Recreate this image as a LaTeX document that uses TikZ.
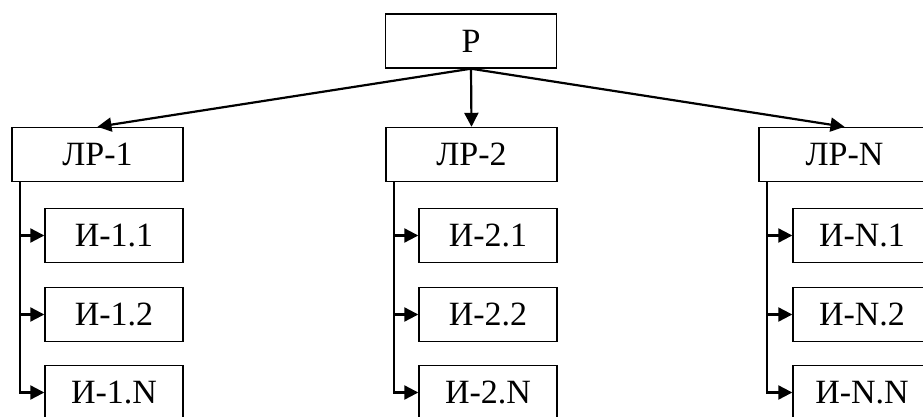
\documentclass[tikz,border=0pt]{standalone}
\usepackage{fontspec}
\setmainfont{Liberation Serif}
\usetikzlibrary{arrows.meta}
\begin{document}
\begin{tikzpicture}[x=1pt,y=-1pt,
  box/.style={draw, line width=1.4pt, minimum height=54pt, inner sep=0pt, font=\fontsize{34}{34}\selectfont},
  topbox/.style={box, minimum width=171pt},
  itembox/.style={box, minimum width=138pt},
  conn/.style={line width=2.2pt, -{Triangle[length=14pt,width=14pt]}}]
\useasboundingbox (0,0) rectangle (923,417);
\begin{scope}
\clip (0,0) rectangle (923,417);
\node[topbox] (P) at (471,41) {Р};
\node[topbox] (L1) at (97.5,154.5) {ЛР-1};
\node[topbox] (L2) at (471.5,154.5) {ЛР-2};
\node[topbox] (LN) at (844.5,154.5) {ЛР-N};
\foreach \c/\x/\l in {1/114/1, 2/488/2, N/862/N} {
  \node[itembox] (I\c1) at (\x,235.5) {И-\l.1};
  \node[itembox] (I\c2) at (\x,314.5) {И-\l.2};
  \node[itembox] (I\c3) at (\x,392.5) {И-\l.N};
}
\draw[conn] (P.south) -- (L1.north);
\draw[conn] (P.south) -- (L2.north);
\draw[conn] (P.south) -- (LN.north);
\foreach \c in {1,2,N} {
  \coordinate (V\c) at ([xshift=9pt]L\c.south west);
  \draw[line width=2.2pt] (V\c) -- (V\c |- I\c3.west) -- ++(5pt,0);
  \foreach \k in {1,2,3} {
    \draw[conn] (V\c |- I\c\k.west) -- (I\c\k.west);
  }
}
\end{scope}
\end{tikzpicture}
\end{document}
